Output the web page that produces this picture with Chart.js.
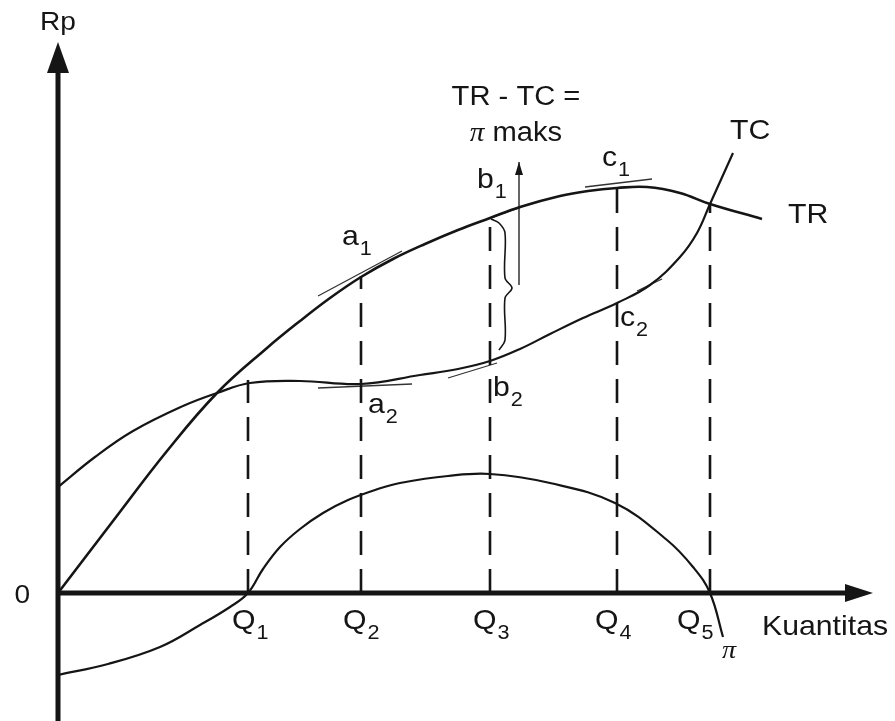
<!DOCTYPE html>
<html>
<head>
<meta charset="utf-8">
<script src="https://cdn.jsdelivr.net/npm/chart.js@4.4.1/dist/chart.umd.min.js"></script>
<style>
  html, body { margin: 0; padding: 0; background: #fff; }
  #wrap { width: 895px; height: 721px; }
</style>
</head>
<body>
<div id="wrap"><canvas id="profitChart" width="895" height="721"></canvas></div>
<script>
// Q1..Q5 on the Kuantitas axis and where each dashed drop line starts
const qSubs = ['1', '2', '3', '4', '5'];
const qValues = [190, 303, 432, 559, 652];
const dropTops = [213, 317, 376, 405, 389];

// total revenue
const trQ = [0, 55, 109, 159, 209, 242, 272, 303, 335, 367, 400, 432, 462, 502, 530, 559, 589, 622, 652, 704];
const trRp = [0, 72, 142, 200, 245, 272, 295, 316, 334, 349, 363, 375, 386, 397, 402, 405, 406, 400, 389, 374];
// total cost
const tcQ = [0, 37, 75, 125, 159, 192, 242, 303, 362, 400, 432, 462, 492, 525, 559, 592, 622, 639, 652, 675];
const tcRp = [106, 136, 162, 187, 200, 210, 212, 209, 218, 224, 232, 244, 259, 275, 290, 308, 336, 360, 389, 440];
// profit
const piQ = [0, 50, 102, 142, 172, 190, 205, 222, 242, 265, 290, 320, 342, 390, 432, 492, 557, 609, 635, 652, 665];
const piRp = [-82, -71, -54, -32, -14, 0, 24, 46, 64, 80, 93, 104, 110, 117, 119, 110, 90, 53, 26, 0, -44];

// short tangent strokes at a1, b1, c1 (on TR) and a2, b2, c2 (on TC)
const tangentQ = [[260, 344], [404, 464], [527, 594], [260, 354], [390, 439], [579, 604]];
const tangentRp = [[297, 342], [365, 386], [406, 414], [205, 209], [215, 230], [302, 314]];

// brace between b1 and b2, and the "pi maks" arrow
const braceQ = [433, 441, 447, 447, 454, 447, 447, 441];
const braceRp = [374, 370, 360, 315, 305, 295, 253, 243];
const arrowQ = [461, 461];
const arrowRp = [308, 431];

// named points: [main letter, subscript, q, rp]
const namedPoints = [
  ['a', '1', 303, 317], ['b', '1', 432, 376], ['c', '1', 559, 405],
  ['a', '2', 303, 209], ['b', '2', 432, 232], ['c', '2', 559, 290]
];

const INK = '#151515';
const SANS = '"Liberation Sans", Arial, sans-serif';
const SERIF = '"Liberation Serif", "DejaVu Serif", serif';
const STRETCH = 1.08;

const pts = (xs, ys) => xs.map((x, i) => ({ x, y: ys[i] }));

const curve = (data, width) => ({
  data, showLine: true, borderColor: INK, borderWidth: width,
  pointRadius: 0, tension: 0.4, fill: false
});

const datasets = [
  curve(pts(trQ, trRp), 2.6),
  curve(pts(tcQ, tcRp), 2.2),
  curve(pts(piQ, piRp), 2.2)
];

qValues.forEach((q, i) => {
  datasets.push({
    data: [{ x: q, y: 0 }, { x: q, y: dropTops[i] }],
    showLine: true, borderColor: INK, borderWidth: 2.6, borderDash: [24, 14],
    pointRadius: 0
  });
});

tangentQ.forEach((qs, i) => {
  datasets.push({
    data: pts(qs, tangentRp[i]),
    showLine: true, borderColor: '#333', borderWidth: 1.3, pointRadius: 0
  });
});

datasets.push({
  data: pts(braceQ, braceRp),
  showLine: true, borderColor: INK, borderWidth: 1.6, pointRadius: 0, tension: 0.35
});
datasets.push({
  data: pts(arrowQ, arrowRp),
  showLine: true, borderColor: '#333', borderWidth: 1.5, pointRadius: 0
});

// draws text stretched a little wider, like the scanned lettering
function put(ctx, text, x, y, size, opts = {}) {
  ctx.save();
  ctx.font = (opts.style ? opts.style + ' ' : '') + size + 'px ' + (opts.family || SANS);
  ctx.translate(x, y);
  ctx.scale(STRETCH, 1);
  ctx.textAlign = opts.align || 'left';
  ctx.textBaseline = 'alphabetic';
  ctx.fillText(text, 0, 0);
  const w = ctx.measureText(text).width * STRETCH;
  ctx.restore();
  return w;
}

function subLabel(ctx, main, sub, x, y, size, subSize) {
  const w = put(ctx, main, x, y, size);
  put(ctx, sub, x + w + 1, y + 10, subSize);
}

const sketchDecor = {
  id: 'sketchDecor',
  afterDatasetsDraw(chart) {
    const { ctx, chartArea } = chart;
    const xs = chart.scales.x, ys = chart.scales.y;
    const X = v => xs.getPixelForValue(v);
    const Y = v => ys.getPixelForValue(v);
    const ox = X(0), oy = Y(0);

    ctx.save();
    ctx.fillStyle = INK;
    ctx.strokeStyle = INK;

    // axes with arrowheads
    ctx.lineWidth = 5;
    ctx.beginPath();
    ctx.moveTo(ox, chartArea.bottom);
    ctx.lineTo(ox, chartArea.top + 66);
    ctx.moveTo(ox - 2, oy);
    ctx.lineTo(chartArea.right - 48, oy);
    ctx.stroke();
    ctx.beginPath();
    ctx.moveTo(ox, chartArea.top + 42);
    ctx.lineTo(ox - 11, chartArea.top + 73);
    ctx.lineTo(ox + 11, chartArea.top + 73);
    ctx.closePath();
    ctx.fill();
    ctx.beginPath();
    ctx.moveTo(chartArea.right - 22, oy);
    ctx.lineTo(chartArea.right - 50, oy - 9);
    ctx.lineTo(chartArea.right - 50, oy + 9);
    ctx.closePath();
    ctx.fill();

    // head of the pi maks arrow
    const ax = X(arrowQ[1]), ay = Y(arrowRp[1]);
    ctx.beginPath();
    ctx.moveTo(ax, ay);
    ctx.lineTo(ax - 4, ay + 13);
    ctx.lineTo(ax + 4, ay + 13);
    ctx.closePath();
    ctx.fill();

    // axis texts
    put(ctx, 'Rp', ox - 18, chartArea.top + 30, 26);
    put(ctx, '0', ox - 28, oy + 10, 26, { align: 'right' });
    put(ctx, 'Kuantitas', chartArea.right - 133, oy + 42, 28);

    const qDx = [-16, -18, -17, -22, -33];
    qValues.forEach((q, i) => {
      subLabel(ctx, 'Q', qSubs[i], X(q) + qDx[i], oy + 36, 28, 20);
    });

    // curve names
    const trEnd = trQ.length - 1, tcEnd = tcQ.length - 1, piEnd = piQ.length - 1;
    put(ctx, 'TR', X(trQ[trEnd]) + 26, Y(trRp[trEnd]) + 4, 28);
    put(ctx, 'TC', X(tcQ[tcEnd]) - 3, Y(tcRp[tcEnd]) - 14, 28);
    put(ctx, '\u03c0', X(piQ[piEnd]) - 1, Y(piRp[piEnd]) + 21, 26, { style: 'italic', family: SERIF });

    // TR - TC = pi maks
    put(ctx, 'TR - TC =', ax - 3, ay - 57, 27, { align: 'center' });
    ctx.save();
    ctx.font = '27px ' + SANS;
    const wm = ctx.measureText(' maks').width * STRETCH;
    ctx.font = 'italic 27px ' + SERIF;
    const wp = ctx.measureText('\u03c0').width * STRETCH;
    ctx.restore();
    const left = ax - 3 - (wm + wp) / 2;
    put(ctx, '\u03c0', left, ay - 21, 27, { style: 'italic', family: SERIF });
    put(ctx, ' maks', left + wp, ay - 21, 27);

    // a1..c2
    const offs = [[-19, -31], [-13, -29], [-15, -22], [7, 29], [3, 35], [3, 23]];
    namedPoints.forEach((p, i) => {
      subLabel(ctx, p[0], p[1], X(p[2]) + offs[i][0], Y(p[3]) + offs[i][1], 28, 20);
    });

    ctx.restore();
  }
};

new Chart(document.getElementById('profitChart'), {
  type: 'scatter',
  data: { datasets },
  options: {
    responsive: false,
    animation: false,
    layout: { padding: 0 },
    plugins: { legend: { display: false }, tooltip: { enabled: false } },
    scales: {
      x: { type: 'linear', display: false, min: -58, max: 837 },
      y: { type: 'linear', display: false, min: -128, max: 593 }
    }
  },
  plugins: [sketchDecor]
});
</script>
</body>
</html>
